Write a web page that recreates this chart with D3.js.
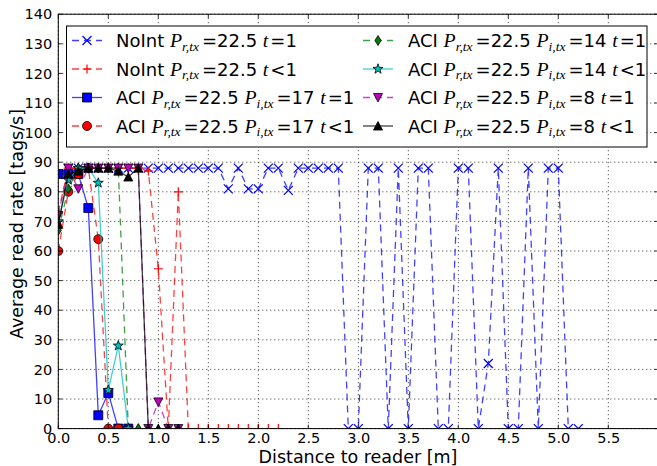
<!DOCTYPE html>
<html><head><meta charset="utf-8">
<script src="https://cdn.jsdelivr.net/npm/d3@7/dist/d3.min.js"></script>
<style>html,body{margin:0;padding:0;background:#fff;overflow:hidden}</style>
</head><body>
<svg id="c" width="657" height="466"></svg>
<script>
const distances = [0.0,0.1,0.2,0.3,0.4,0.5,0.6,0.7,0.8,0.9,1.0,1.1,1.2,1.3,1.4,1.5,1.6,1.7,1.8,1.9,2.0,2.1,2.2,2.3,2.4,2.5,2.6,2.7,2.8,2.9,3.0,3.1,3.2,3.3,3.4,3.5,3.6,3.7,3.8,3.9,4.0,4.1,4.2,4.3,4.4,4.5,4.6,4.7,4.8,4.9,5.0,5.1,5.2];
const noIntT1 = [86,88,88,88,88,88,88,88,88,88, 88,88,88,88,88,88,88,81,88,81, 81,88,88,80.5,88,88,88,88,88,0, 0,88,88,0,88,0,88,88,0,0, 88,88,0,22,88,0,0,88,0,88, 88,0,0];
const noIntTlt1 = [73,88,88,88,88,88,88,88,88,87,54,0,80,0,0,0,0,0,0,0,0,0,0];
const aci17T1 = [86,86,86,74.5,4.5,12,0,0];
const aci17Tlt1 = [60,80,86,88,64,0,0];
const aci14T1 = [67,81,88,88,88,88,88,0,0];
const aci14Tlt1 = [70,84,88,88,83,13,28,0];
const aci8T1 = [72,88,81,88,88,88,88,88,88,0,9,0,0];
const aci8Tlt1 = [69,86,87,88,88,88,87,85,88,0,0,0,0];
const xTicks = [0.0,0.5,1.0,1.5,2.0,2.5,3.0,3.5,4.0,4.5,5.0,5.5,6.0];
const xTickLabels = ["0.0","0.5","1.0","1.5","2.0","2.5","3.0","3.5","4.0","4.5","5.0","5.5",""];
const yTicks = [0,10,20,30,40,50,60,70,80,90,100,110,120,130,140];

const series = [
  {vals: noIntT1, color:"#0000ff", dash:true, marker:"x", pre:"NoInt", pi:null, t:"=1"},
  {vals: noIntTlt1, color:"#ff0000", dash:true, marker:"+", pre:"NoInt", pi:null, t:"<1"},
  {vals: aci17T1, color:"#0000ff", dash:false, marker:"s", pre:"ACI", pi:"17", t:"=1"},
  {vals: aci17Tlt1, color:"#ff0000", dash:true, marker:"o", pre:"ACI", pi:"17", t:"<1"},
  {vals: aci14T1, color:"#008000", dash:true, marker:"d", pre:"ACI", pi:"14", t:"=1"},
  {vals: aci14Tlt1, color:"#00bfbf", dash:false, marker:"*", pre:"ACI", pi:"14", t:"<1"},
  {vals: aci8T1, color:"#bf00bf", dash:true, marker:"v", pre:"ACI", pi:"8", t:"=1"},
  {vals: aci8Tlt1, color:"#000000", dash:false, marker:"^", pre:"ACI", pi:"8", t:"<1"}
];

const L=58.3, R=658.3, T=14.2, B=428.6;
const x = d3.scaleLinear().domain([0,6]).range([L,R]);
const y = d3.scaleLinear().domain([0,140]).range([B,T]);
const svg = d3.select("#c");
const SANS = "DejaVu Sans", SERIF = "Liberation Serif";

svg.append("defs").append("clipPath").attr("id","clip").append("rect")
  .attr("x",L).attr("y",T).attr("width",R-L).attr("height",B-T);

// grid
const g = svg.append("g");
g.selectAll(".gx").data(xTicks).join("line")
  .attr("x1",d=>x(d)).attr("x2",d=>x(d)).attr("y1",T).attr("y2",B)
  .attr("stroke","#000").attr("stroke-width",0.8).attr("stroke-dasharray","1,3");
g.selectAll(".gy").data(yTicks).join("line")
  .attr("y1",d=>y(d)).attr("y2",d=>y(d)).attr("x1",L).attr("x2",R)
  .attr("stroke","#000").attr("stroke-width",0.8).attr("stroke-dasharray","1,3");

function markerPath(m, s){
  const h=s/2;
  switch(m){
    case "x": return `M${-h},${-h}L${h},${h}M${-h},${h}L${h},${-h}`;
    case "+": return `M${-h},0L${h},0M0,${-h}L0,${h}`;
    case "s": return `M${-h},${-h}H${h}V${h}H${-h}Z`;
    case "o": return d3.symbol(d3.symbolCircle, Math.PI*h*h)();
    case "d": return `M0,${-h}L${h*0.6},0L0,${h}L${-h*0.6},0Z`;
    case "*": {
      let p=""; for(let i=0;i<10;i++){const r=i%2?h*0.42:h*1.05; const a=-Math.PI/2+i*Math.PI/5; p+=(i?"L":"M")+(r*Math.cos(a)).toFixed(2)+","+(r*Math.sin(a)).toFixed(2);} return p+"Z";}
    case "v": return `M${-h},${-h*0.9}L${h},${-h*0.9}L0,${h}Z`;
    case "^": return `M${-h},${h*0.9}L${h},${h*0.9}L0,${-h}Z`;
  }
}
const mSize = {x:9,"+":9,s:9,o:9,d:10,"*":10,v:9,"^":9};
function drawMarker(sel, s){
  const open = (s.marker==="x"||s.marker==="+");
  sel.attr("d", markerPath(s.marker, mSize[s.marker]))
    .attr("fill", open?"none":s.color)
    .attr("stroke", open?s.color:"#000")
    .attr("stroke-width", open?1.2:0.8);
}

const plot = svg.append("g").attr("clip-path","url(#clip)");
series.forEach(s=>{
  const pts = s.vals.map((v,i)=>[distances[i], v]);
  plot.append("path").datum(pts)
    .attr("d", d3.line().x(d=>x(d[0])).y(d=>y(d[1])))
    .attr("fill","none").attr("stroke",s.color).attr("stroke-width",1.3)
    .attr("stroke-opacity",0.75)
    .attr("stroke-dasharray", s.dash?"7,5":null);
  plot.selectAll(null).data(pts).join("path")
    .attr("transform", d=>`translate(${x(d[0])},${y(d[1])})`)
    .call(sel=>drawMarker(sel,s));
});

// frame
svg.append("rect").attr("x",L).attr("y",T).attr("width",R-L).attr("height",B-T)
  .attr("fill","none").attr("stroke","#000").attr("stroke-width",1);

// ticks
const tk = svg.append("g").attr("stroke","#000").attr("stroke-width",0.8);
xTicks.forEach(t=>{
  tk.append("line").attr("x1",x(t)).attr("x2",x(t)).attr("y1",B).attr("y2",B-4);
  tk.append("line").attr("x1",x(t)).attr("x2",x(t)).attr("y1",T).attr("y2",T+4);
});
yTicks.forEach(t=>{
  tk.append("line").attr("x1",L).attr("x2",L+4).attr("y1",y(t)).attr("y2",y(t));
  tk.append("line").attr("x1",R).attr("x2",R-4).attr("y1",y(t)).attr("y2",y(t));
});

// axes with labels
const xAxis = d3.axisBottom(x).tickValues(xTicks).tickFormat((d,i)=>xTickLabels[i]).tickSize(0).tickPadding(4);
const ax = svg.append("g").attr("transform",`translate(0,${B})`).call(xAxis);
ax.select(".domain").remove();
ax.selectAll("text").attr("font-family",SANS).attr("font-size",14.5).attr("fill","#000");
const yAxis = d3.axisLeft(y).tickValues(yTicks).tickSize(0).tickPadding(6);
const ay = svg.append("g").attr("transform",`translate(${L},0)`).call(yAxis);
ay.select(".domain").remove();
ay.selectAll("text").attr("font-family",SANS).attr("font-size",14.5).attr("fill","#000");

svg.append("text").attr("x",358).attr("y",463).attr("text-anchor","middle")
  .attr("font-family",SANS).attr("font-size",17.5).text("Distance to reader [m]");
svg.append("text").attr("transform","translate(23,224) rotate(-90)").attr("text-anchor","middle")
  .attr("font-family",SANS).attr("font-size",17.5).text("Average read rate [tags/s]");

// legend
const leg = svg.append("g");
leg.append("rect").attr("x",66.5).attr("y",26).attr("width",580.5).attr("height",121)
  .attr("fill","#fff").attr("stroke","#000").attr("stroke-width",1);
const rowsY = [40.5, 69, 97.5, 126];
const FS = 18;
series.forEach((s,i)=>{
  const col = Math.floor(i/4), row = i%4;
  const hx0 = col? 363:72, hx1 = col? 393:102, tx = col? 408:116;
  const cy = rowsY[row];
  leg.append("line").attr("x1",hx0).attr("x2",hx1).attr("y1",cy).attr("y2",cy)
    .attr("stroke",s.color).attr("stroke-width",1.3).attr("stroke-opacity",0.75)
    .attr("stroke-dasharray", s.dash?"7,5":null);
  leg.append("path").attr("transform",`translate(${(hx0+hx1)/2},${cy})`).call(sel=>drawMarker(sel,s));
  const t = leg.append("text").attr("x",tx).attr("y",cy+6.5).attr("font-family",SANS).attr("font-size",FS);
  t.append("tspan").text(s.pre+" ");
  t.append("tspan").attr("font-family",SERIF).attr("font-style","italic").attr("font-size",FS*1.1).text("P");
  t.append("tspan").attr("font-family",SERIF).attr("font-style","italic").attr("font-size",FS*0.75).attr("dy",3.5).text("r,tx");
  t.append("tspan").attr("dy",-3.5).attr("dx",3).text("=22.5 ");
  if(s.pi){
    t.append("tspan").attr("font-family",SERIF).attr("font-style","italic").attr("font-size",FS*1.1).text("P");
    t.append("tspan").attr("font-family",SERIF).attr("font-style","italic").attr("font-size",FS*0.75).attr("dy",3.5).text("i,tx");
    t.append("tspan").attr("dy",-3.5).attr("dx",3).text("="+s.pi+" ");
  }
  t.append("tspan").attr("font-family",SERIF).attr("font-style","italic").attr("font-size",FS*1.1).text("t");
  t.append("tspan").attr("dx",2).text(s.t);
});
</script>
</body></html>
